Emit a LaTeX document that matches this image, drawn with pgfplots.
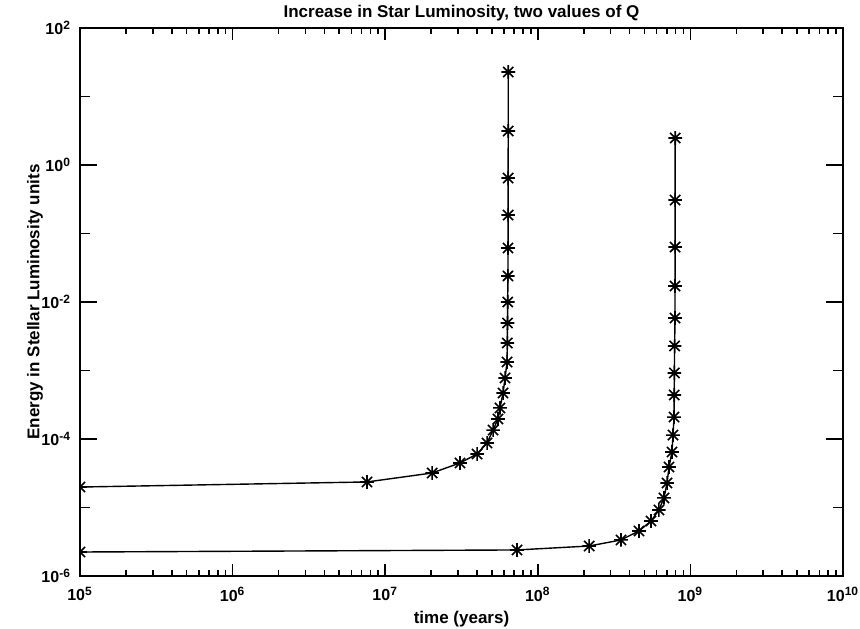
\documentclass[border=0pt]{standalone}
\usepackage{pgfplots}
\pgfplotsset{compat=1.18}
\usepackage{fontspec}
\setmainfont{Liberation Sans}
\newcommand{\tp}[1]{\textbf{10\textsuperscript{#1}}}
% IDL-like asterisk: plus and cross
\pgfdeclareplotmark{idlstar}{%
  \pgfpathmoveto{\pgfqpoint{-\pgfplotmarksize}{0pt}}%
  \pgfpathlineto{\pgfqpoint{\pgfplotmarksize}{0pt}}%
  \pgfpathmoveto{\pgfqpoint{0pt}{-\pgfplotmarksize}}%
  \pgfpathlineto{\pgfqpoint{0pt}{\pgfplotmarksize}}%
  \pgfpathmoveto{\pgfqpoint{-0.75\pgfplotmarksize}{-0.75\pgfplotmarksize}}%
  \pgfpathlineto{\pgfqpoint{0.75\pgfplotmarksize}{0.75\pgfplotmarksize}}%
  \pgfpathmoveto{\pgfqpoint{-0.75\pgfplotmarksize}{0.75\pgfplotmarksize}}%
  \pgfpathlineto{\pgfqpoint{0.75\pgfplotmarksize}{-0.75\pgfplotmarksize}}%
  \pgfusepathqstroke}
\begin{document}
\begin{tikzpicture}
\begin{axis}[
  xmode=log, ymode=log,
  scale only axis, width=381.5pt, height=274pt,
  xmin=1e5, xmax=1e10, ymin=1e-6, ymax=1e2,
  xtick={1e5,1e6,1e7,1e8,1e9,1e10},
  xticklabels={\tp{5},\tp{6},\tp{7},\tp{8},\tp{9},\tp{10}},
  minor xtick={2e5,3e5,4e5,5e5,6e5,7e5,8e5,9e5,
               2e6,3e6,4e6,5e6,6e6,7e6,8e6,9e6,
               2e7,3e7,4e7,5e7,6e7,7e7,8e7,9e7,
               2e8,3e8,4e8,5e8,6e8,7e8,8e8,9e8,
               2e9,3e9,4e9,5e9,6e9,7e9,8e9,9e9},
  ytick={1e-6,1e-4,1e-2,1,1e2},
  yticklabels={\tp{-6},\tp{-4},\tp{-2},\tp{0},\tp{2}},
  minor ytick={1e-5,1e-3,1e-1,10},
  tick align=inside,
  axis line style={line width=0.9pt},
  tick style={black, line width=0.8pt},
  x tick style={/pgfplots/major tick length=6pt, /pgfplots/minor tick length=3pt},
  y tick style={/pgfplots/major tick length=8.5pt, /pgfplots/minor tick length=5pt},
  tick label style={font=\fontsize{8}{9}\selectfont},
  yticklabel style={xshift=-1pt},
  xticklabel style={yshift=-2pt},
  every axis title/.style={at={(rel axis cs:0.5,1)}, yshift=7.5pt, anchor=center,
    font=\fontsize{8.5}{10}\selectfont\bfseries},
  every axis x label/.style={at={(rel axis cs:0.5,0)}, yshift=-21.5pt, anchor=center,
    font=\fontsize{8.5}{10}\selectfont\bfseries},
  every axis y label/.style={at={(rel axis cs:0,0.5)}, xshift=-22.5pt, rotate=90, anchor=center,
    font=\fontsize{8.5}{10}\selectfont\bfseries},
  title={Increase in Star Luminosity, two values of Q},
  xlabel={time (years)},
  ylabel={Energy in Stellar Luminosity units},
  clip marker paths=true,
]
\coordinate (bl) at (rel axis cs:0,0);
\coordinate (tr) at (rel axis cs:1,1);
\addplot[black, line width=0.7pt, mark=idlstar, mark size=3.4pt, mark options={line width=0.8pt}]
coordinates {
(1e5,1.99e-5) (7.6e6,2.36e-5) (2.03e7,3.19e-5) (3.09e7,4.47e-5) (4.0e7,6.04e-5)
(4.65e7,8.75e-5) (5.09e7,1.35e-4) (5.48e7,1.96e-4) (5.65e7,2.84e-4) (5.92e7,4.70e-4)
(6.10e7,7.78e-4) (6.29e7,1.33e-3) (6.31e7,2.52e-3) (6.33e7,4.93e-3) (6.35e7,1.0e-2)
(6.37e7,0.024) (6.38e7,0.0614) (6.39e7,0.186) (6.39e7,0.645) (6.4e7,3.13) (6.4e7,22.8)
};
\addplot[black, line width=0.7pt, mark=idlstar, mark size=3.4pt, mark options={line width=0.8pt}]
coordinates {
(1e5,2.24e-6) (7.31e7,2.40e-6) (2.17e8,2.74e-6) (3.51e8,3.36e-6) (4.60e8,4.54e-6)
(5.52e8,6.35e-6) (6.22e8,9.2e-6) (6.71e8,1.38e-5) (7.03e8,2.28e-5) (7.24e8,3.90e-5)
(7.57e8,6.46e-5) (7.69e8,1.14e-4) (7.81e8,2.09e-4) (7.83e8,4.39e-4) (7.85e8,9.2e-4)
(7.88e8,2.28e-3) (7.93e8,5.83e-3) (7.93e8,0.0171) (7.94e8,0.0635) (7.94e8,0.308) (7.95e8,2.48)
};
\end{axis}
\pgfresetboundingbox
\path[use as bounding box] ([xshift=-40pt,yshift=-26.5pt]bl) rectangle ([xshift=8.5pt,yshift=14pt]tr);
\end{tikzpicture}
\end{document}
